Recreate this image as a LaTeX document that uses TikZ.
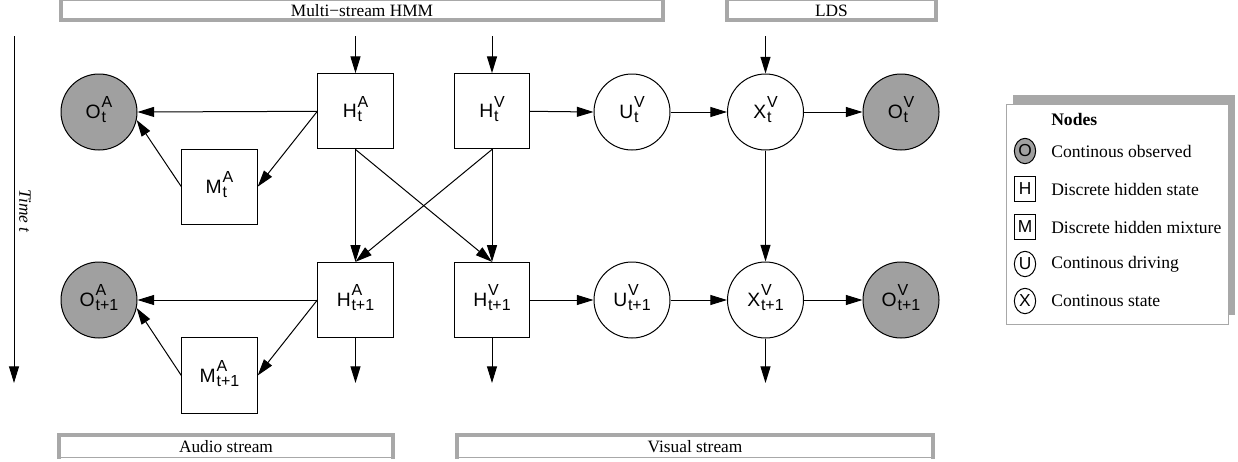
\documentclass[tikz,border=0pt]{standalone}
\usepackage{fontspec}
\setmainfont{Liberation Serif}
\setsansfont{Liberation Sans}
\usetikzlibrary{arrows.meta,shapes.geometric}
\definecolor{obsgray}{RGB}{160,160,160}
\definecolor{framegray}{RGB}{168,168,168}
\newcommand{\glab}[3]{#1\kern0.6pt\raisebox{2pt}{\fontsize{12}{12}\selectfont\begin{tabular}{@{}l@{}}#2\\[-1pt]#3\end{tabular}}}
\tikzset{
  hbox/.style={draw, line width=0.75pt, minimum width=56.5pt, minimum height=56.5pt, inner sep=0pt, font=\sffamily\fontsize{14.5}{16}\selectfont},
  obsnode/.style={circle, draw, fill=obsgray, line width=0.75pt, minimum size=57pt, inner sep=0pt, font=\sffamily\fontsize{14.5}{16}\selectfont},
  hidnode/.style={circle, draw, fill=white, line width=0.75pt, minimum size=57pt, inner sep=0pt, font=\sffamily\fontsize{14.5}{16}\selectfont},
  arr/.style={-{Triangle[length=12.5pt,width=7.5pt]}, line width=0.75pt},
  bthin/.style={draw=framegray, line width=0.6pt},
  bthick/.style={draw=framegray, line width=2.4pt},
  btext/.style={font=\fontsize{13}{15}\selectfont, inner sep=0pt},
  legicon/.style={ellipse, draw, line width=0.75pt, minimum width=16pt, minimum height=19pt, inner sep=0pt, font=\sffamily\fontsize{13}{13}\selectfont},
  legbox/.style={rectangle, draw, line width=0.75pt, minimum width=16pt, minimum height=19pt, inner sep=0pt, font=\sffamily\fontsize{13}{13}\selectfont},
  legtext/.style={anchor=west, font=\fontsize{13.2}{15}\selectfont, inner sep=0pt}
}
\begin{document}
\begin{tikzpicture}[x=0.75pt,y=-0.75pt]
\useasboundingbox (0,0) rectangle (1238,461);

% banners
\draw[bthin] (60,0.4) rectangle (664,20);
\draw[bthick] (61,-2) -- (61,20) -- (663,20) -- (663,-2);
\node[btext] (ms) at (362,11) {Multi\textminus stream HMM};
\draw[bthin] (726,0.4) rectangle (937,20);
\draw[bthick] (727,-2) -- (727,20) -- (936,20) -- (936,-2);
\node[btext] (lds) at (831.5,11) {LDS};
\draw[bthin] (58,435) rectangle (394,457.6);
\draw[bthick] (59,459) -- (59,435) -- (393,435) -- (393,459);
\draw[framegray, line width=0.6pt] (59,457.6) -- (393,457.6);
\node[btext] (aud) at (226,447) {Audio stream};
\draw[bthin] (456,435) rectangle (934,457.6);
\draw[bthick] (457,459) -- (457,435) -- (933,435) -- (933,459);
\node[btext] (vis) at (695,447) {Visual stream};

% time axis
\coordinate (tt) at (14,36);
\coordinate (tb) at (14,383);
\draw[arr] (tt) -- (tb);
\node[rotate=-90, font=\itshape\fontsize{13}{15}\selectfont, inner sep=0pt] (time) at (25,211) {Time t};

% row t
\node[obsnode] (OA1) at (99,112) {\glab{O}{A}{t}};
\node[hbox] (MA1) at (219.5,186.7) {\glab{M}{A}{t}};
\node[hbox] (HA1) at (355.5,111.3) {\glab{H}{A}{t}};
\node[hbox] (HV1) at (492,111.3) {\glab{H}{V}{t}};
\node[hidnode] (UV1) at (632,112) {\glab{U}{V}{t}};
\node[hidnode] (XV1) at (765.5,112) {\glab{X}{V}{t}};
\node[obsnode] (OV1) at (901,112) {\glab{O}{V}{t}};

% row t+1
\node[obsnode] (OA2) at (99,300) {\glab{O}{A}{t+1}};
\node[hbox] (MA2) at (219.5,375.5) {\glab{M}{A}{t+1}};
\node[hbox] (HA2) at (355.5,300) {\glab{H}{A}{t+1}};
\node[hbox] (HV2) at (492,300) {\glab{H}{V}{t+1}};
\node[hidnode] (UV2) at (632,300) {\glab{U}{V}{t+1}};
\node[hidnode] (XV2) at (765.5,300) {\glab{X}{V}{t+1}};
\node[obsnode] (OV2) at (901,300) {\glab{O}{V}{t+1}};

% free ends
\coordinate (inHA) at (355.5,36);
\coordinate (inHV) at (492,36);
\coordinate (inXV) at (765.5,36);
\coordinate (outHA) at (355.5,383);
\coordinate (outHV) at (492,383);
\coordinate (outXV) at (765.5,383);

\draw[arr] (inHA) -- (HA1.north);
\draw[arr] (inHV) -- (HV1.north);
\draw[arr] (inXV) -- (XV1.north);

\foreach \r in {1,2}{
  \draw[arr] (HA\r.west) -- (OA\r.east);
  \draw[arr] (HA\r.west) -- (MA\r.east);
  \draw[arr] (MA\r.west) -- (OA\r.-12);
  \draw[arr] (HV\r.east) -- (UV\r.west);
  \draw[arr] (UV\r.east) -- (XV\r.west);
  \draw[arr] (XV\r.east) -- (OV\r.west);
}
\draw[arr] (HA1.south) -- (HA2.north);
\draw[arr] (HA1.south) -- (HV2.north);
\draw[arr] (HV1.south) -- (HA2.north);
\draw[arr] (HV1.south) -- (HV2.north);
\draw[arr] (XV1.south) -- (XV2.north);

\draw[arr] (HA2.south) -- (outHA);
\draw[arr] (HV2.south) -- (outHV);
\draw[arr] (XV2.south) -- (outXV);

% legend
\fill[framegray] (1013,95) rectangle (1235,315);
\draw[framegray, line width=0.6pt, fill=white] (1006,104) rectangle (1228,324);
\node[legtext, font=\bfseries\fontsize{13.2}{15}\selectfont] (ltitle) at (1051,119) {Nodes};
\node[legicon, fill=obsgray] (lo) at (1025,151) {O};
\node[legtext] (lot) at (1051,151) {Continous observed};
\node[legbox] (lh) at (1025,189) {H};
\node[legtext] (lht) at (1051,189) {Discrete hidden state};
\node[legbox] (lm) at (1025,227) {M};
\node[legtext] (lmt) at (1051,227) {Discrete hidden mixture};
\node[legicon] (lu) at (1025,264) {U};
\node[legtext] (lut) at (1051,264) {Continous driving};
\node[legicon] (lx) at (1025,301) {X};
\node[legtext] (lxt) at (1051,301) {Continous state};
\end{tikzpicture}
\end{document}
